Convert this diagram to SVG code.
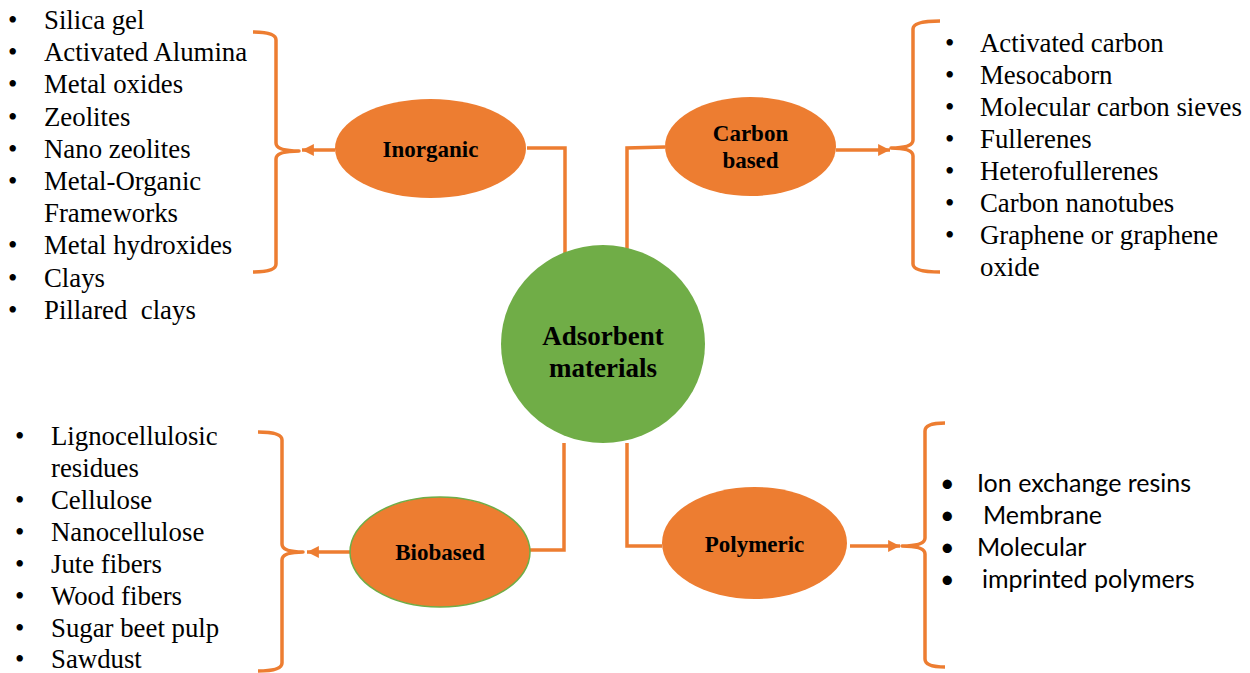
<svg xmlns="http://www.w3.org/2000/svg" width="1250" height="673" viewBox="0 0 1250 673">
<style>
.ln{fill:none;stroke:#ED7D31;stroke-width:3.5}
.br{fill:none;stroke:#ED7D31;stroke-width:3.5;stroke-linejoin:round}
.ell{fill:#ED7D31}
.lbl{font-weight:bold;font-size:23px;fill:#000;text-anchor:middle}
.big{font-weight:bold;font-size:27px;fill:#000;text-anchor:middle}
.li{font-size:26.8px;fill:#000}
.ls{font-size:25px;fill:#000}
</style>
<defs>
<marker id="ah" viewBox="0 0 10 10" refX="10" refY="5" markerWidth="3.4" markerHeight="3.4" orient="auto" markerUnits="strokeWidth">
<path d="M0 0 L10 5 L0 10 z" fill="#ED7D31"/>
</marker>
</defs>
<g id="connectors">
<polyline class="ln" points="527,148 565,148 565,258"/>
<polyline class="ln" points="665,147 627,148 627,258"/>
<polyline class="ln" points="530,550 564,550 564,443"/>
<polyline class="ln" points="662,546 627,546 627,443"/>
<line class="ln" x1="335" y1="150" x2="302" y2="150" marker-end="url(#ah)"/>
<line class="ln" x1="836" y1="150" x2="890" y2="150" marker-end="url(#ah)"/>
<line class="ln" x1="350" y1="552" x2="307" y2="552" marker-end="url(#ah)"/>
<line class="ln" x1="850" y1="546" x2="900" y2="546" marker-end="url(#ah)"/>
<path class="br" d="M253 32 Q276 32 276 40 L276 143 Q276 151 299 151 Q276 151 276 159 L276 264 Q276 272 253 272"/>
<path class="br" d="M940 21 Q913 21 913 29 L913 140 Q913 148 891 148 Q913 148 913 156 L913 264 Q913 272 940 272"/>
<path class="br" d="M258 432 Q282 432 282 440 L282 544 Q282 552 303 552 Q282 552 282 560 L282 663 Q282 671 258 671"/>
<path class="br" d="M945 423 Q925 423 925 431 L925 538 Q925 546 902 546 Q925 546 925 554 L925 659 Q925 667 945 667"/>
</g>
<g id="center" font-family="'Liberation Serif', 'DejaVu Serif', serif">
<ellipse cx="603" cy="344" rx="102" ry="99" fill="#70AD47"/>
<text class="big" x="603" y="345">Adsorbent</text>
<text class="big" x="603" y="377">materials</text>
</g>
<g id="inorganic" font-family="'Liberation Serif', 'DejaVu Serif', serif">
<ellipse class="ell" cx="430.5" cy="148.5" rx="95.5" ry="49.5"/>
<text class="lbl" x="430.5" y="157">Inorganic</text>
</g>
<g id="carbon" font-family="'Liberation Serif', 'DejaVu Serif', serif">
<ellipse class="ell" cx="750.5" cy="146.5" rx="85.5" ry="49.5"/>
<text class="lbl" x="750.5" y="141">Carbon</text>
<text class="lbl" x="750.5" y="168">based</text>
</g>
<g id="biobased" font-family="'Liberation Serif', 'DejaVu Serif', serif">
<ellipse class="ell" cx="440" cy="552" rx="90" ry="55" stroke="#70AD47" stroke-width="1.5"/>
<text class="lbl" x="440" y="560">Biobased</text>
</g>
<g id="polymeric" font-family="'Liberation Serif', 'DejaVu Serif', serif">
<ellipse class="ell" cx="754.5" cy="543" rx="92.5" ry="56"/>
<text class="lbl" x="754.5" y="552">Polymeric</text>
</g>
<g id="inorganic-list" class="li" font-family="'Liberation Serif', 'DejaVu Serif', serif">
<text x="8" y="29">•</text><text x="44" y="29">Silica gel</text>
<text x="8" y="61">•</text><text x="44" y="61">Activated Alumina</text>
<text x="8" y="93">•</text><text x="44" y="93">Metal oxides</text>
<text x="8" y="126">•</text><text x="44" y="126">Zeolites</text>
<text x="8" y="158">•</text><text x="44" y="158">Nano zeolites</text>
<text x="8" y="190">•</text><text x="44" y="190">Metal-Organic</text>
<text x="44" y="222">Frameworks</text>
<text x="8" y="254">•</text><text x="44" y="254">Metal hydroxides</text>
<text x="8" y="287">•</text><text x="44" y="287">Clays</text>
<text x="8" y="319">•</text><text x="44" y="319" xml:space="preserve">Pillared  clays</text>
</g>
<g id="carbon-list" class="li" font-family="'Liberation Serif', 'DejaVu Serif', serif">
<text x="945" y="52">•</text><text x="980" y="52">Activated carbon</text>
<text x="945" y="84">•</text><text x="980" y="84">Mesocaborn</text>
<text x="945" y="116">•</text><text x="980" y="116">Molecular carbon sieves</text>
<text x="945" y="148">•</text><text x="980" y="148">Fullerenes</text>
<text x="945" y="180">•</text><text x="980" y="180">Heterofullerenes</text>
<text x="945" y="212">•</text><text x="980" y="212">Carbon nanotubes</text>
<text x="945" y="244">•</text><text x="980" y="244">Graphene or graphene</text>
<text x="980" y="276">oxide</text>
</g>
<g id="biobased-list" class="li" font-family="'Liberation Serif', 'DejaVu Serif', serif">
<text x="15" y="445">•</text><text x="51" y="445">Lignocellulosic</text>
<text x="51" y="477">residues</text>
<text x="15" y="509">•</text><text x="51" y="509">Cellulose</text>
<text x="15" y="541">•</text><text x="51" y="541">Nanocellulose</text>
<text x="15" y="573">•</text><text x="51" y="573">Jute fibers</text>
<text x="15" y="605">•</text><text x="51" y="605">Wood fibers</text>
<text x="15" y="637">•</text><text x="51" y="637">Sugar beet pulp</text>
<text x="15" y="668">•</text><text x="51" y="668">Sawdust</text>
</g>
<g id="polymeric-list" class="ls" font-family="Lato, 'Liberation Sans', sans-serif">
<text x="940" y="492">•</text><text x="977" y="492">Ion exchange resins</text>
<text x="940" y="524">•</text><text x="983" y="524">Membrane</text>
<text x="940" y="556">•</text><text x="977" y="556">Molecular</text>
<text x="940" y="588">•</text><text x="982" y="588">imprinted polymers</text>
</g>
</svg>
